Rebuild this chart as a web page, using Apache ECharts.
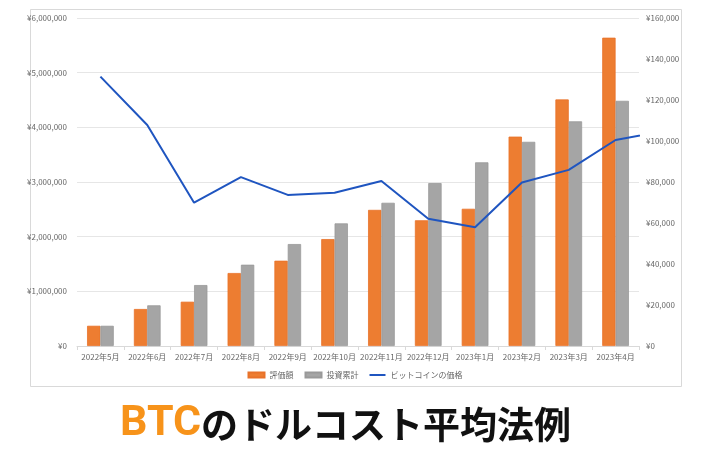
<!DOCTYPE html>
<html>
<head>
<meta charset="utf-8">
<script src="https://cdn.jsdelivr.net/npm/echarts@6/dist/echarts.min.js"></script>
<style>html,body{margin:0;padding:0;background:#fff;}#c{width:710px;height:467px;}</style>
</head>
<body>
<div id="c"></div>
<script>
const months = ['2022年5月','2022年6月','2022年7月','2022年8月','2022年9月','2022年10月','2022年11月','2022年12月','2023年1月','2023年2月','2023年3月','2023年4月'];
const valuation = [370000, 677000, 810000, 1335000, 1560000, 1956000, 2490000, 2300000, 2510000, 3830000, 4510000, 5640000];
const invested = [370000, 744000, 1115000, 1487000, 1865000, 2243000, 2620000, 2980000, 3360000, 3735000, 4110000, 4485000];
const btcPrice = [131400, 107800, 69900, 82400, 73700, 74800, 80500, 62100, 57900, 79800, 85900, 100500, 104700];
const leftTicks = [0, 1000000, 2000000, 3000000, 4000000, 5000000, 6000000];
const rightTicks = [0, 20000, 40000, 60000, 80000, 100000, 120000, 140000, 160000];
const seriesNames = ['評価額', '投資累計', 'ビットコインの価格'];

const font = '"Noto Sans CJK JP", "Noto Sans", sans-serif';
const yen = v => '¥' + Number(v).toLocaleString('en-US');
const chart = echarts.init(document.getElementById('c'), null, {renderer: 'canvas'});
chart.setOption({
  animation: false,
  backgroundColor: '#fff',
  textStyle: {fontFamily: font},
  grid: {left: 77, right: 71, top: 18, bottom: 121, containLabel: false},
  legend: {
    bottom: 83, left: 'center', itemWidth: 16, itemHeight: 5, itemGap: 11,
    textStyle: {fontSize: 8, color: '#666', fontFamily: font},
    data: [
      {name: seriesNames[0], icon: 'rect'},
      {name: seriesNames[1], icon: 'rect'},
      {name: seriesNames[2], icon: 'path://M0,0 L16,0 L16,2 L0,2 Z'}
    ]
  },
  xAxis: [{
    type: 'category', data: months,
    axisLine: {lineStyle: {color: '#d9d9d9'}},
    axisTick: {show: true, lineStyle: {color: '#d9d9d9'}, length: 4},
    axisLabel: {fontSize: 8, color: '#666', margin: 7, interval: 0}
  }, {
    type: 'value', min: -0.5, max: 11.5, show: false
  }],
  yAxis: [{
    type: 'value', min: leftTicks[0], max: leftTicks[leftTicks.length - 1], interval: 1000000,
    axisLabel: {fontSize: 8, color: '#666', formatter: yen, margin: 10},
    splitLine: {lineStyle: {color: '#e6e6e6'}},
    axisLine: {show: false}, axisTick: {show: false}
  }, {
    type: 'value', min: rightTicks[0], max: rightTicks[rightTicks.length - 1], interval: 20000,
    axisLabel: {fontSize: 8, color: '#666', formatter: yen, margin: 7},
    splitLine: {show: false},
    axisLine: {show: false}, axisTick: {show: false}
  }],
  series: [{
    name: seriesNames[0], type: 'bar', data: valuation,
    barGap: '0%', barCategoryGap: '43%',
    itemStyle: {color: '#ED7D31', borderColor: '#E8722A', borderWidth: 0.8}
  }, {
    name: seriesNames[1], type: 'bar', data: invested,
    itemStyle: {color: '#A5A5A5', borderColor: '#999999', borderWidth: 0.8}
  }, {
    name: seriesNames[2], type: 'line', xAxisIndex: 1, yAxisIndex: 1,
    data: btcPrice.map((v, i) => [i, v]),
    clip: true, symbol: 'none', color: '#1F55C0',
    lineStyle: {color: '#1F55C0', width: 2}
  }],
  graphic: [{
    type: 'rect', shape: {x: 30.5, y: 9.5, width: 651, height: 377},
    style: {fill: 'none', stroke: '#d9d9d9', lineWidth: 1}, z: -1, silent: true
  }, {
    type: 'text', left: 120, top: 403,
    style: {
      text: '{a|BTC}{b|のドルコスト平均法例}',
      rich: {
        a: {fontFamily: 'Roboto, "Noto Sans", sans-serif', fontWeight: 'bold', fontSize: 43, fill: '#F7931A'},
        b: {fontFamily: '"Noto Sans CJK JP", sans-serif', fontWeight: 'bold', fontSize: 37, fill: '#111'}
      }
    }
  }]
});
</script>
</body>
</html>
